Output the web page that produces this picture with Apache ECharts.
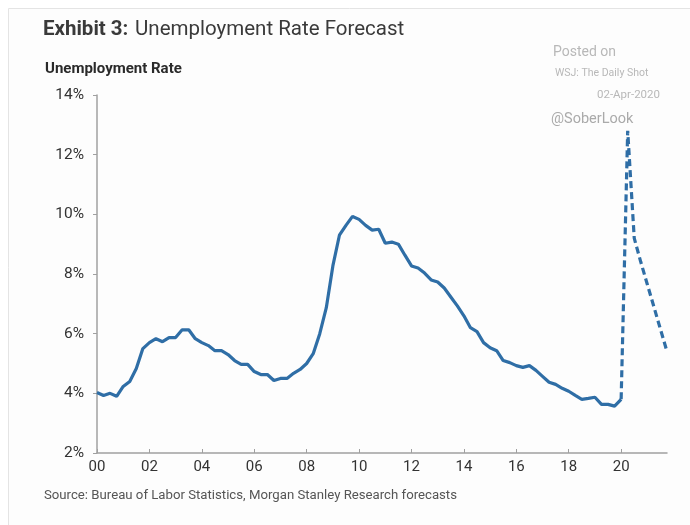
<!DOCTYPE html>
<html>
<head>
<meta charset="utf-8">
<script src="https://cdn.jsdelivr.net/npm/echarts@6/dist/echarts.min.js"></script>
<style>
html,body{margin:0;padding:0;background:#fff;}
#c{width:690px;height:525px;}
</style>
</head>
<body>
<div id="c"></div>
<script>
// Quarters 2000Q1 .. 2021Q4
const years = [];
for (let y = 2000; y <= 2021; y++) for (let q = 1; q <= 4; q++) years.push(y + 'Q' + q);

// Actual unemployment rate (%), 2000Q1 .. 2020Q1
const actual = [
  4.03, 3.93, 4.00, 3.90,
  4.23, 4.40, 4.83, 5.50,
  5.70, 5.83, 5.73, 5.87,
  5.87, 6.13, 6.13, 5.83,
  5.70, 5.60, 5.43, 5.43,
  5.30, 5.10, 4.97, 4.97,
  4.73, 4.63, 4.63, 4.43,
  4.50, 4.50, 4.67, 4.80,
  5.00, 5.33, 6.00, 6.87,
  8.27, 9.30, 9.63, 9.93,
  9.83, 9.63, 9.47, 9.50,
  9.03, 9.07, 9.00, 8.63,
  8.27, 8.20, 8.03, 7.80,
  7.73, 7.53, 7.23, 6.93,
  6.60, 6.20, 6.07, 5.70,
  5.53, 5.43, 5.10, 5.03,
  4.93, 4.87, 4.93, 4.77,
  4.57, 4.37, 4.30, 4.17,
  4.07, 3.93, 3.80, 3.83,
  3.87, 3.63, 3.63, 3.57,
  3.80
];
// Forecast (%), 2020Q1 .. 2021Q4
const forecast = [3.80, 12.80, 9.20, 8.40, 7.65, 6.90, 6.15, 5.40];

const yTicks = [2, 4, 6, 8, 10, 12, 14];

const actualData = years.map((_, i) => i < actual.length ? actual[i] : null);
const fStart = actual.length - 1;
const forecastData = years.map((_, i) => (i >= fStart && i - fStart < forecast.length) ? forecast[i - fStart] : null);

const showIdx = (i) => i % 8 === 0 && i <= 80;

const chart = echarts.init(document.getElementById('c'));
chart.setOption({
  backgroundColor: '#ffffff',
  animation: false,
  textStyle: { fontFamily: 'Roboto' },
  graphic: [
    { type: 'rect', shape: { x: 8.5, y: 8.5, width: 720, height: 560 }, style: { fill: '#fdfdfd', stroke: '#e4e4e4', lineWidth: 1 }, z: -10 },
    { type: 'text', left: 43, top: 19, style: { text: '{b|Exhibit 3:}  {n|Unemployment Rate Forecast}', rich: {
        b: { fontSize: 20.5, fontWeight: 'bold', fill: '#3a3a3a', fontFamily: 'Roboto' },
        n: { fontSize: 20.5, fill: '#3a3a3a', fontFamily: 'Roboto' } } } },
    { type: 'text', left: 45, top: 62, style: { text: 'Unemployment Rate', fontSize: 15, fontWeight: 'bold', fill: '#2a2a2a', fontFamily: 'Roboto' } },
    { type: 'text', left: 553, top: 45, style: { text: 'Posted on', fontSize: 14, fill: '#b8b8b8', fontFamily: 'Roboto' } },
    { type: 'text', left: 555, top: 68, style: { text: 'WSJ: The Daily Shot', fontSize: 10.5, fill: '#b8b8b8', fontFamily: 'Roboto' } },
    { type: 'text', right: 30, top: 89, style: { text: '02-Apr-2020', fontSize: 11.5, fill: '#b8b8b8', fontFamily: 'Roboto' } },
    { type: 'text', left: 551, top: 112, style: { text: '@SoberLook', fontSize: 14.5, fill: '#aaaaaa', fontFamily: 'Roboto' } },
    { type: 'text', left: 44, top: 489, style: { text: 'Source: Bureau of Labor Statistics, Morgan Stanley Research forecasts', fontSize: 13.2, fill: '#555555', fontFamily: 'Roboto' } }
  ],
  grid: { left: 97, top: 95, right: 23, bottom: 72, containLabel: false },
  xAxis: {
    type: 'category',
    data: years,
    boundaryGap: false,
    axisLine: { lineStyle: { color: '#a0a0a0', width: 1.5 } },
    axisTick: { inside: true, length: 4, interval: (i) => showIdx(i), lineStyle: { color: '#a0a0a0' } },
    axisLabel: {
      interval: (i) => showIdx(i),
      formatter: (v) => v.slice(2, 4),
      color: '#333', fontSize: 15, margin: 7
    },
    splitLine: { show: false }
  },
  yAxis: {
    type: 'value',
    min: yTicks[0], max: yTicks[yTicks.length - 1], interval: 2,
    axisLine: { show: true, lineStyle: { color: '#a0a0a0', width: 1.5 } },
    axisTick: { show: true, length: 4, lineStyle: { color: '#a0a0a0' } },
    axisLabel: { formatter: '{value}%', color: '#333', fontSize: 15.5, margin: 13 },
    splitLine: { show: false }
  },
  series: [
    { type: 'line', data: actualData, symbol: 'none', connectNulls: false,
      lineStyle: { color: '#2f6ea6', width: 3.2 } },
    { type: 'line', data: forecastData, symbol: 'none',
      lineStyle: { color: '#2f6ea6', width: 3.2, type: [7, 4] } }
  ]
});
</script>
</body>
</html>
